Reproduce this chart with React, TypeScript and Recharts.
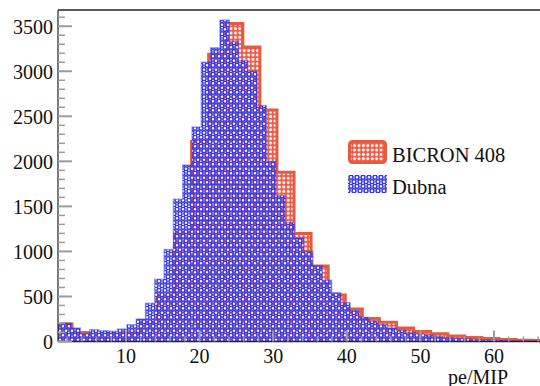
import { ComposedChart, Area, XAxis, YAxis, ReferenceLine, Legend } from "recharts";

// histogram bin edges (pe/MIP) and counts
const RED_EDGES = [
  0.35, 2.67, 4.99, 7.31, 9.63, 11.95, 14.27, 16.59, 18.91, 21.23, 23.55, 25.87, 28.19, 30.51, 32.83,
  35.15, 37.47, 39.79, 42.11, 44.43, 46.75, 49.07, 51.39, 53.71, 56.03, 58.35, 60.67, 62.99, 65.31, 67.63,
];
const RED_COUNTS = [
  195, 100, 75, 80, 95, 210, 505, 1210, 2220, 3190, 3530, 3270, 2570, 1880, 1200,
  838, 515, 360, 255, 215, 150, 110, 85, 60, 45, 32, 22, 15, 10,
];

const BLUE_EDGES = [
  0.01, 1.27, 2.54, 3.8, 5.07, 6.33, 7.59, 8.86, 10.12, 11.39, 12.65, 13.91, 15.18, 16.44, 17.71, 18.97,
  20.23, 21.5, 22.76, 24.03, 25.29, 26.55, 27.82, 29.08, 30.35, 31.61, 32.87, 34.14, 35.4, 36.67, 37.93,
  39.19, 40.46, 41.72, 42.99, 44.25, 45.51, 46.78, 48.04, 49.31, 50.57, 51.83, 53.1, 54.36, 55.63, 56.89,
  58.15, 59.42, 60.68, 61.95, 63.21, 64.47, 65.74, 67.0,
];
const BLUE_COUNTS = [
  190, 205, 150, 85, 130, 120, 115, 140, 185, 250, 425, 690, 1020, 1580, 1960, 2380, 3100, 3260,
  3570, 3330, 3120, 3000, 2620, 2000, 1620, 1320, 1150, 1000, 840, 680, 540, 430, 340, 270, 225,
  185, 150, 125, 100, 85, 70, 55, 45, 35, 30, 22, 18, 14, 10, 8, 6, 5, 4,
];

const X_LABELS = [10, 20, 30, 40, 50, 60];
const Y_LABELS = [0, 500, 1000, 1500, 2000, 2500, 3000, 3500];

const X_MIN = 0.76;
const X_MAX = 66.25;
const Y_MAX = 3680;

const RED = "#e85a3c";
const BLUE = "#3535e4";
const FONT = "Liberation Serif, Times New Roman, serif";

const xTicks = Array.from({ length: 33 }, (_, i) => 2 + i * 2);
const yTicks = Array.from({ length: 37 }, (_, i) => i * 100);

// step histogram: one point per left edge, last edge repeats the last count
function toSteps(edges: number[], counts: number[]) {
  return edges.map((x, i) => ({ x, n: counts[Math.min(i, counts.length - 1)] }));
}

const redData = toSteps(RED_EDGES, RED_COUNTS);
const blueData = toSteps(BLUE_EDGES, BLUE_COUNTS);

const YTick = (props: any) => {
  const { x, y, payload } = props;
  const major = Y_LABELS.includes(payload.value);
  return (
    <g>
      <line x1={x} x2={x + (major ? 14 : 7)} y1={y} y2={y} stroke="#9c9c9c" strokeWidth={major ? 2 : 1.5} />
      {major && (
        <text x={x - 5} y={y + 7.5} textAnchor="end" fontFamily={FONT} fontSize={20} fill="#111">
          {payload.value}
        </text>
      )}
    </g>
  );
};

const XTick = (props: any) => {
  const { x, y, payload } = props;
  const major = X_LABELS.includes(payload.value);
  return (
    <g>
      <line x1={x} x2={x} y1={y} y2={y - (major ? 11 : 5)} stroke="#9c9c9c" strokeWidth={major ? 2 : 1.5} />
      {major && (
        <text x={x} y={y + 21} textAnchor="middle" fontFamily={FONT} fontSize={20} fill="#111">
          {payload.value}
        </text>
      )}
    </g>
  );
};

const renderLegend = () => (
  <svg width={192} height={60} style={{ display: "block" }}>
    <rect x={1.5} y={2.5} width={36} height={21} rx={3} fill="url(#redHatch)" stroke={RED} strokeWidth={3} />
    <text x={44} y={23} fontFamily={FONT} fontSize={20.5} fill="#111">BICRON 408</text>
    <rect x={0} y={36} width={39} height={18} fill="url(#blueRings)" />
    <text x={44} y={55} fontFamily={FONT} fontSize={20.5} fill="#111">Dubna</text>
  </svg>
);

export default function App() {
  return (
    <div style={{ position: "absolute", left: 0, top: 0, width: 540, height: 386, background: "#fff", overflow: "hidden" }}>
      <ComposedChart width={540} height={386} margin={{ top: 10, right: 0, bottom: 0, left: 0 }}>
        <defs>
          <pattern id="redHatch" patternUnits="userSpaceOnUse" width={4.4} height={4.4}>
            <rect width={4.4} height={4.4} fill="#f05a48" />
            <circle cx={2.2} cy={2.2} r={1.45} fill="#fff" />
          </pattern>
          <pattern id="blueRings" patternUnits="userSpaceOnUse" width={6} height={9}>
            <circle cx={3} cy={2.25} r={2} fill="#f4f4ff" stroke={BLUE} strokeWidth={1.5} />
            <circle cx={0} cy={6.75} r={2} fill="#f4f4ff" stroke={BLUE} strokeWidth={1.5} />
            <circle cx={6} cy={6.75} r={2} fill="#f4f4ff" stroke={BLUE} strokeWidth={1.5} />
          </pattern>
        </defs>
        <XAxis
          type="number"
          dataKey="x"
          domain={[X_MIN, X_MAX]}
          allowDataOverflow
          ticks={xTicks}
          interval={0}
          tickSize={0}
          tickMargin={0}
          tickLine={false}
          tick={<XTick />}
          height={44.5}
          axisLine={{ stroke: "#222", strokeWidth: 1.5 }}
          label={(p: any) => {
            const vb = p.viewBox;
            return (
              <text x={vb.x + vb.width - 32} y={vb.y + 42} textAnchor="end" fontFamily={FONT} fontSize={20} fill="#111">
                pe/MIP
              </text>
            );
          }}
        />
        <YAxis
          type="number"
          domain={[0, Y_MAX]}
          allowDataOverflow
          ticks={yTicks}
          interval={0}
          tickSize={0}
          tickMargin={0}
          tickLine={false}
          tick={<YTick />}
          width={58}
          axisLine={{ stroke: "#222", strokeWidth: 1.2 }}
        />
        <Area
          data={redData}
          dataKey="n"
          name="BICRON 408"
          type="stepAfter"
          stroke={RED}
          strokeWidth={3}
          fill="url(#redHatch)"
          fillOpacity={1}
          isAnimationActive={false}
        />
        <Area
          data={blueData}
          dataKey="n"
          name="Dubna"
          type="stepAfter"
          stroke={BLUE}
          strokeOpacity={0.4}
          strokeWidth={1.5}
          fill="url(#blueRings)"
          fillOpacity={1}
          isAnimationActive={false}
        />
        <ReferenceLine y={Y_MAX} stroke="#222" strokeWidth={1.5} />
        <Legend
          layout="vertical"
          align="center"
          verticalAlign="middle"
          content={renderLegend}
          wrapperStyle={{ left: 348, top: 139, width: 192, height: 60 }}
        />
      </ComposedChart>
    </div>
  );
}
